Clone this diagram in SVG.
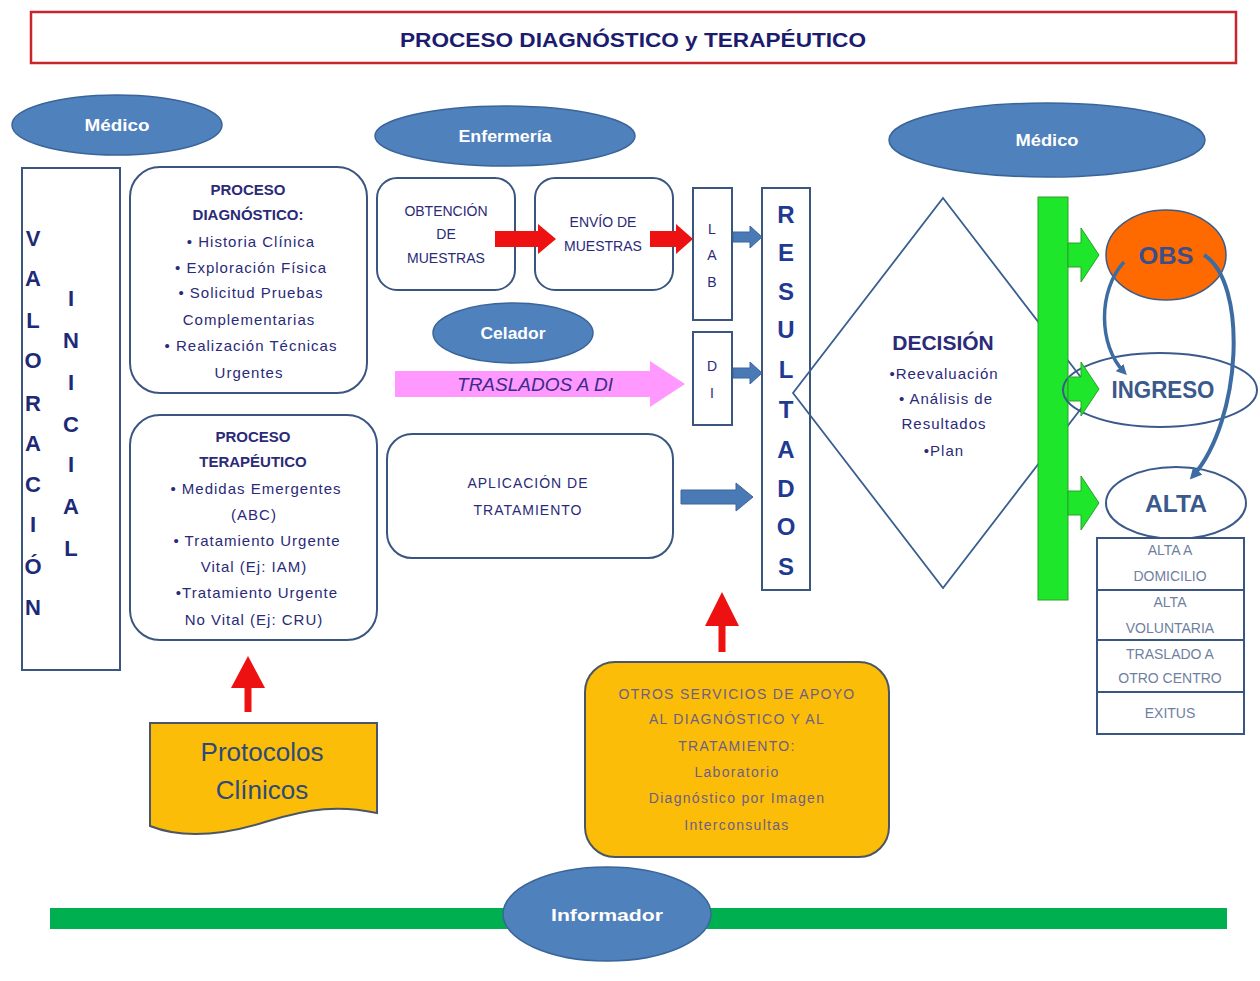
<svg xmlns="http://www.w3.org/2000/svg" width="1260" height="981" viewBox="0 0 1260 981">
<defs>
<style>
text{font-family:"Liberation Sans",Arial,sans-serif;text-anchor:middle}
.ell{fill:#4f81bd;stroke:#3a6599;stroke-width:1.5}
.ellt{fill:#ffffff;font-weight:bold;font-size:16px}
.box{fill:#ffffff;stroke:#3a5680;stroke-width:2}
.nv{fill:#2a2a78;font-size:15px;letter-spacing:1px}
.nvb{fill:#2a2a78;font-size:15px;font-weight:bold}
.big{fill:#1e2a78;font-size:22px;font-weight:bold}
.res{fill:#1f3a93;font-size:24px;font-weight:bold}
.sm{fill:#2a2a78;font-size:14px}
.opt{fill:#6f7f9f;font-size:14px}
.gold{fill:#fbbd08;stroke:#4a5566;stroke-width:2}
.oth{fill:#6e5e86;font-size:14px;letter-spacing:1.3px}
.red{fill:#ee1111}
.blue{fill:#4a7ab5;stroke:#3a6599;stroke-width:1}
.grn{fill:#1ee62a;stroke:#2aa02a;stroke-width:1}
.lbl{fill:#3a5a8c;font-size:23px;font-weight:bold}
</style>
<marker id="ah" viewBox="0 0 10 10" refX="6" refY="5" markerWidth="3" markerHeight="3" orient="auto">
<path d="M0,0 L10,5 L0,10 z" fill="#3d6ca3"/>
</marker>
</defs>
<rect x="0" y="0" width="1260" height="981" fill="#ffffff"/>

<g id="title">
<rect x="31" y="12" width="1205" height="51" fill="#ffffff" stroke="#c8262c" stroke-width="2.5"/>
<text x="633" y="47" font-size="21" font-weight="bold" fill="#1c1c6e" textLength="466" lengthAdjust="spacingAndGlyphs">PROCESO DIAGNÓSTICO y TERAPÉUTICO</text>
</g>

<g id="medico-left">
<ellipse class="ell" cx="117" cy="125" rx="105" ry="30"/>
<text class="ellt" x="117" y="131" textLength="65" lengthAdjust="spacingAndGlyphs">Médico</text>
</g>

<g id="valoracion">
<rect x="22" y="168" width="98" height="502" fill="#ffffff" stroke="#3a5680" stroke-width="2"/>
<text class="big" x="33" y="246">V</text>
<text class="big" x="33" y="286">A</text>
<text class="big" x="33" y="328">L</text>
<text class="big" x="33" y="368">O</text>
<text class="big" x="33" y="411">R</text>
<text class="big" x="33" y="451">A</text>
<text class="big" x="33" y="492">C</text>
<text class="big" x="33" y="532">I</text>
<text class="big" x="33" y="574">Ó</text>
<text class="big" x="33" y="615">N</text>
<text class="big" x="71" y="306">I</text>
<text class="big" x="71" y="348">N</text>
<text class="big" x="71" y="390">I</text>
<text class="big" x="71" y="432">C</text>
<text class="big" x="71" y="472">I</text>
<text class="big" x="71" y="514">A</text>
<text class="big" x="71" y="556">L</text>
</g>

<g id="proceso-diagnostico">
<rect class="box" x="130" y="167" width="237" height="226" rx="30"/>
<text class="nvb" x="248" y="195">PROCESO</text>
<text class="nvb" x="248" y="220">DIAGNÓSTICO:</text>
<text class="nv" x="251" y="247">• Historia Clínica</text>
<text class="nv" x="251" y="273">• Exploración Física</text>
<text class="nv" x="251" y="298">• Solicitud Pruebas</text>
<text class="nv" x="249" y="325">Complementarias</text>
<text class="nv" x="251" y="351">• Realización Técnicas</text>
<text class="nv" x="249" y="378">Urgentes</text>
</g>

<g id="proceso-terapeutico">
<rect class="box" x="130" y="415" width="247" height="225" rx="30"/>
<text class="nvb" x="253" y="442">PROCESO</text>
<text class="nvb" x="253" y="467">TERAPÉUTICO</text>
<text class="nv" x="256" y="494">• Medidas Emergentes</text>
<text class="nv" x="254" y="520">(ABC)</text>
<text class="nv" x="257" y="546">• Tratamiento Urgente</text>
<text class="nv" x="254" y="572">Vital (Ej: IAM)</text>
<text class="nv" x="257" y="598">•Tratamiento Urgente</text>
<text class="nv" x="254" y="625">No Vital (Ej: CRU)</text>
</g>

<g id="protocolos">
<path class="gold" d="M150,723 H377 V813 C340,805 310,808 265,822 C220,836 180,838 150,826 Z"/>
<text x="262" y="761" font-size="26" fill="#2e4a7a">Protocolos</text>
<text x="262" y="799" font-size="26" fill="#2e4a7a">Clínicos</text>
</g>

<g id="enfermeria">
<ellipse class="ell" cx="505" cy="136" rx="130" ry="30"/>
<text class="ellt" x="505" y="142" textLength="93" lengthAdjust="spacingAndGlyphs">Enfermería</text>
</g>

<g id="obtencion">
<rect class="box" x="377" y="178" width="138" height="112" rx="20"/>
<text class="sm" x="446" y="216">OBTENCIÓN</text>
<text class="sm" x="446" y="239">DE</text>
<text class="sm" x="446" y="263">MUESTRAS</text>
</g>

<g id="envio">
<rect class="box" x="535" y="178" width="138" height="112" rx="20"/>
<text class="sm" x="603" y="227">ENVÍO DE</text>
<text class="sm" x="603" y="251">MUESTRAS</text>
</g>

<g id="lab">
<rect x="693" y="188" width="39" height="132" fill="#ffffff" stroke="#3a5680" stroke-width="2"/>
<text class="sm" x="712" y="234" font-size="13">L</text>
<text class="sm" x="712" y="260" font-size="13">A</text>
<text class="sm" x="712" y="287" font-size="13">B</text>
</g>

<g id="di">
<rect x="693" y="332" width="39" height="93" fill="#ffffff" stroke="#3a5680" stroke-width="2"/>
<text class="sm" x="712" y="371" font-size="13">D</text>
<text class="sm" x="712" y="398" font-size="13">I</text>
</g>

<g id="celador">
<ellipse class="ell" cx="513" cy="333" rx="80" ry="30"/>
<text class="ellt" x="513" y="339" textLength="65" lengthAdjust="spacingAndGlyphs">Celador</text>
</g>

<g id="traslados">
<polygon points="395,371 650,371 650,361 685,384 650,407 650,397 395,397" fill="#ff99ff"/>
<text x="535" y="391" font-size="19" font-style="italic" fill="#3d2b8a">TRASLADOS A DI</text>
</g>

<g id="aplicacion">
<rect class="box" x="387" y="434" width="286" height="124" rx="25"/>
<text class="sm" x="528" y="488" letter-spacing="1">APLICACIÓN DE</text>
<text class="sm" x="528" y="515" letter-spacing="1">TRATAMIENTO</text>
</g>

<g id="resultados">
<rect x="762" y="188" width="48" height="402" fill="#ffffff" stroke="#3a5680" stroke-width="2"/>
<text class="res" x="786" y="223">R</text>
<text class="res" x="786" y="261">E</text>
<text class="res" x="786" y="300">S</text>
<text class="res" x="786" y="338">U</text>
<text class="res" x="786" y="378">L</text>
<text class="res" x="786" y="418">T</text>
<text class="res" x="786" y="458">A</text>
<text class="res" x="786" y="497">D</text>
<text class="res" x="786" y="535">O</text>
<text class="res" x="786" y="575">S</text>
</g>

<g id="otros">
<rect class="gold" x="585" y="662" width="304" height="195" rx="30"/>
<text class="oth" x="737" y="699">OTROS SERVICIOS DE APOYO</text>
<text class="oth" x="737" y="724">AL DIAGNÓSTICO Y AL</text>
<text class="oth" x="737" y="751">TRATAMIENTO:</text>
<text class="oth" x="737" y="777">Laboratorio</text>
<text class="oth" x="737" y="803">Diagnóstico por Imagen</text>
<text class="oth" x="737" y="830">Interconsultas</text>
</g>

<g id="decision">
<polygon points="943,198 1093,393 943,588 793,393" fill="none" stroke="#3a5f8f" stroke-width="1.8"/>
<text x="943" y="350" font-size="21" font-weight="bold" fill="#2a2a78">DECISIÓN</text>
<text class="nv" x="944" y="379">•Reevaluación</text>
<text class="nv" x="946" y="404">• Análisis de</text>
<text class="nv" x="944" y="429">Resultados</text>
<text class="nv" x="944" y="456">•Plan</text>
</g>

<g id="medico-right">
<ellipse class="ell" cx="1047" cy="140" rx="158" ry="37"/>
<text class="ellt" x="1047" y="146" textLength="63" lengthAdjust="spacingAndGlyphs">Médico</text>
</g>

<g id="barra-verde">
<rect x="1038" y="197" width="30" height="403" fill="#1ee62a" stroke="#2aa02a" stroke-width="1"/>
</g>

<g id="obs">
<ellipse cx="1166" cy="255" rx="60" ry="45" fill="#ff6a00" stroke="#3a5a8c" stroke-width="1.5"/>
<text x="1166" y="264" font-size="24" font-weight="bold" fill="#3a4f8a" textLength="55" lengthAdjust="spacingAndGlyphs">OBS</text>
</g>

<g id="ingreso">
<ellipse cx="1160" cy="390" rx="97" ry="37" fill="none" stroke="#3a5a8c" stroke-width="2"/>
<text class="lbl" x="1163" y="398" textLength="103" lengthAdjust="spacingAndGlyphs">INGRESO</text>
</g>

<g id="alta">
<ellipse cx="1176" cy="503" rx="70" ry="36" fill="#ffffff" stroke="#3a5a8c" stroke-width="2"/>
<text class="lbl" x="1176" y="512" font-size="24" textLength="62" lengthAdjust="spacingAndGlyphs">ALTA</text>
</g>

<g id="opciones-alta">
<rect x="1097" y="538" width="147" height="52" fill="#ffffff" stroke="#3a5680" stroke-width="2"/>
<rect x="1097" y="590" width="147" height="50" fill="#ffffff" stroke="#3a5680" stroke-width="2"/>
<rect x="1097" y="640" width="147" height="52" fill="#ffffff" stroke="#3a5680" stroke-width="2"/>
<rect x="1097" y="692" width="147" height="42" fill="#ffffff" stroke="#3a5680" stroke-width="2"/>
<text class="opt" x="1170" y="555">ALTA A</text>
<text class="opt" x="1170" y="581">DOMICILIO</text>
<text class="opt" x="1170" y="607">ALTA</text>
<text class="opt" x="1170" y="633">VOLUNTARIA</text>
<text class="opt" x="1170" y="659">TRASLADO A</text>
<text class="opt" x="1170" y="683">OTRO CENTRO</text>
<text class="opt" x="1170" y="718">EXITUS</text>
</g>

<g id="informador">
<rect x="50" y="908" width="1177" height="21" fill="#00b050"/>
<ellipse class="ell" cx="607" cy="914" rx="104" ry="47"/>
<text class="ellt" x="607" y="921" font-size="19" textLength="112" lengthAdjust="spacingAndGlyphs">Informador</text>
</g>

<g id="connectors">
<polygon class="red" points="495,231 538,231 538,224 556,239 538,254 538,247 495,247"/>
<polygon class="red" points="650,231 676,231 676,224 693,239 676,254 676,247 650,247"/>
<polygon class="blue" points="733,232 750,232 750,226 762,237 750,248 750,242 733,242"/>
<polygon class="blue" points="733,368 750,368 750,362 762,373 750,384 750,378 733,378"/>
<polygon class="blue" points="681,490 736,490 736,483 753,497 736,511 736,504 681,504"/>
<polygon class="red" points="244.5,712 244.5,688 231,688 248,656 265,688 251.5,688 251.5,712"/>
<polygon class="red" points="718.5,652 718.5,626 705,626 722,592 739,626 725.5,626 725.5,652"/>
<polygon class="grn" points="1068,243 1081,243 1081,228 1099,255 1081,282 1081,267 1068,267"/>
<polygon class="grn" points="1068,377 1081,377 1081,362 1099,389 1081,416 1081,401 1068,401"/>
<polygon class="grn" points="1068,491 1081,491 1081,476 1099,503 1081,530 1081,515 1068,515"/>
<path d="M1124,262 C1098,290 1098,345 1124,372" fill="none" stroke="#3d6ca3" stroke-width="3.5" marker-end="url(#ah)"/>
<path d="M1204,255 C1248,282 1242,420 1193,476" fill="none" stroke="#3d6ca3" stroke-width="4" marker-end="url(#ah)"/>
</g>
</svg>
